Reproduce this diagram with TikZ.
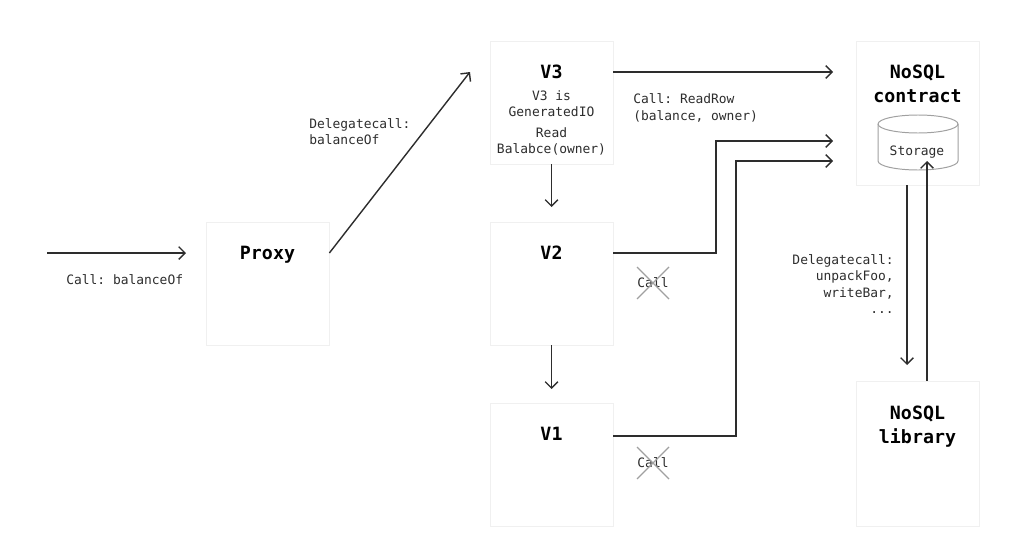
\documentclass[tikz,border=0pt]{standalone}
\usepackage{fontspec}
\setmonofont{DejaVu Sans Mono}
\usepackage{xcolor}
\usetikzlibrary{arrows.meta, positioning}
\definecolor{myink}{RGB}{45,45,45}
\definecolor{myedge}{RGB}{240,240,240}
\definecolor{mygrey}{RGB}{160,160,160}
\tikzset{
  box/.style={draw=myedge, fill=white, line width=0.6pt, minimum width=87.4pt, inner sep=0pt},
  title/.style={font=\fontsize{13}{17}\ttfamily\bfseries, text=black, align=center, inner sep=0pt},
  note/.style={font=\fontsize{9.2}{11.5}\ttfamily, text=myink, inner sep=0pt},
  wire/.style={draw=myink, line width=1pt, -{Straight Barb[length=4.5pt,width=9pt]}},
  strike/.style={draw=mygrey, line width=0.8pt}
}
\begin{document}
\begin{tikzpicture}[x=0.025cm, y=-0.025cm]
  \useasboundingbox (0,0) rectangle (1034,552);
  % Boxes
  \node[box, minimum height=87.4pt] (proxy) at (267.5,283.5) {};
  \node[box, minimum height=87.4pt] (v3) at (551.5,102.5) {};
  \node[box, minimum height=87.4pt] (v2) at (551.5,283.5) {};
  \node[box, minimum height=87.4pt] (v1) at (551.5,464.5) {};
  \node[box, minimum height=102.4pt] (contract) at (917.5,113) {};
  \node[box, minimum height=103.1pt] (library) at (917.5,453.5) {};
  % Box titles
  \node[title] (proxytitle) at (267.5,255) {Proxy};
  \node[title] (v3title) at (551.5,72) {V3};
  \node[title] (v2title) at (551.5,253) {V2};
  \node[title] (v1title) at (551.5,434) {V1};
  \node[title] (contracttitle) at (917.5,84) {NoSQL\\contract};
  \node[title] (librarytitle) at (917.5,427) {NoSQL\\library};
  % Storage inside the contract
  \draw[draw=mygrey, line width=0.7pt] (878,124) arc[start angle=180, end angle=360, x radius=40, y radius=9]
    -- (958,161) arc[start angle=0, end angle=180, x radius=40, y radius=9] -- cycle;
  \draw[draw=mygrey, line width=0.7pt] (878,124) arc[start angle=180, end angle=0, x radius=40, y radius=9];
  \node[note] (storage) at (917,152) {Storage};
  % Text inside V3
  \node[note, align=center] (v3text) at (551.5,123) {V3 is\\GeneratedIO\\[3pt]Read\\Balabce(owner)};
  % Free ends
  \coordinate (start) at (47,253);
  \coordinate (proxyin) at (186,253);
  \coordinate (v3end) at (470,72);
  \coordinate (readend) at (833,72);
  \coordinate (v2end) at (833,141);
  \coordinate (v1end) at (833,161);
  \coordinate (v2bend) at (716,253);
  \coordinate (v1bend) at (736,436);
  \coordinate (v2in) at (551.5,207);
  \coordinate (v1in) at (551.5,389);
  \coordinate (libin) at (907,365);
  \coordinate (libout) at (927,161);
  % Connectors
  \draw[wire] (start) -- (proxyin);
  \draw[wire] (proxy.east |- start) -- (v3end);
  \draw[wire] (v3.east |- v3title) -- (readend);
  \draw[wire] (v3.south) -- (v2in);
  \draw[wire] (v2.east |- v2title) -- (v2bend) -- (v2bend |- v2end) -- (v2end);
  \draw[wire] (v2.south) -- (v1in);
  \draw[wire] (v1.east |- v1bend) -- (v1bend) -- (v1bend |- v1end) -- (v1end);
  \draw[wire] (contract.south -| libin) -- (libin);
  \draw[wire] (library.north -| libout) -- (libout);
  % Labels
  \node[note, anchor=west] (entrylabel) at (66,280) {Call: balanceOf};
  \node[note, anchor=west, align=left] (delegatelabel) at (309,132) {Delegatecall:\\balanceOf};
  \node[note, anchor=west, align=left] (readlabel) at (633,108) {Call: ReadRow\\(balance, owner)};
  \node[note, anchor=east, align=right] (liblabel) at (894,284) {Delegatecall:\\unpackFoo,\\writeBar,\\...};
  % Crossed out calls
  \node[note] (v2call) at (653,283) {Call};
  \draw[strike] (637,267) -- (669,299) (669,267) -- (637,299);
  \node[note] (v1call) at (653,463) {Call};
  \draw[strike] (637,447) -- (669,479) (669,447) -- (637,479);
\end{tikzpicture}
\end{document}
